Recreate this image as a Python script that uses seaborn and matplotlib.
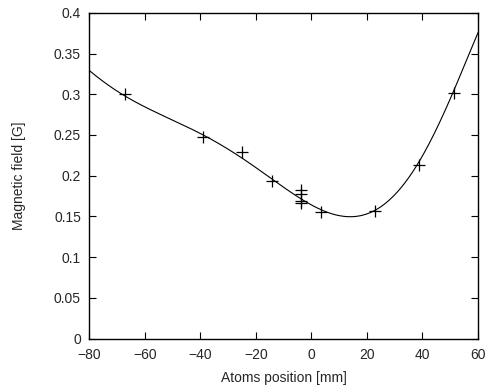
import numpy as np
import pandas as pd
import matplotlib
matplotlib.use("Agg")
import matplotlib.pyplot as plt
import seaborn as sns

# Measured field at the atoms' position
position_mm = [-67.0, -39.0, -25.0, -14.3, -3.6, -3.6, -3.6, -3.6, 3.5, 23.0, 38.6, 51.5]
field_G = [0.300, 0.247, 0.229, 0.1935, 0.182, 0.1775, 0.169, 0.167, 0.156, 0.157, 0.213, 0.302]

# Calculated field profile (sampled)
model_mm = [-80, -67, -51, -39, -24.5, -14.3, -4.1, 3.1, 6.1, 15.1, 23.0, 30.8, 38.7, 51.2, 60]
model_G = [0.329, 0.298, 0.270, 0.248, 0.223, 0.195, 0.174, 0.158, 0.155, 0.1465,
           0.157, 0.185, 0.2145, 0.303, 0.376]

sns.set_style("ticks")
plt.rcParams["font.family"] = ["Liberation Sans", "DejaVu Sans"]
plt.rcParams["xtick.direction"] = "in"
plt.rcParams["ytick.direction"] = "in"
plt.rcParams["xtick.top"] = True
plt.rcParams["ytick.right"] = True

fig = plt.figure(figsize=(4.88, 3.87), dpi=100)
ax = fig.add_axes([0.183, 0.125, 0.7965, 0.842])

# smooth profile through the sampled model values
coef = np.polyfit(model_mm, model_G, 6)
xs = np.linspace(-80, 60, 400)
curve = pd.DataFrame({"x": xs, "y": np.polyval(coef, xs)})
sns.lineplot(data=curve, x="x", y="y", ax=ax, color="black", linewidth=0.8)

pts = pd.DataFrame({"x": position_mm, "y": field_G})
sns.scatterplot(data=pts, x="x", y="y", ax=ax, marker="+", color="black",
                s=70, linewidth=0.9, zorder=3)

ax.set_xlim(-80, 60)
ax.set_ylim(0, 0.4)
ax.set_xticks(np.arange(-80, 61, 20))
ax.set_yticks(np.arange(0, 0.401, 0.05))
ax.set_yticklabels(["0", "0.05", "0.1", "0.15", "0.2", "0.25", "0.3", "0.35", "0.4"])
ax.set_xlabel("Atoms position [mm]", fontsize=10, labelpad=6)
ax.set_ylabel("Magnetic field [G]", fontsize=10, labelpad=20)
ax.tick_params(labelsize=10, length=5, width=0.8, color="black")
ax.tick_params(axis="x", pad=7)
ax.tick_params(axis="y", pad=6)
for s in ax.spines.values():
    s.set_linewidth(1.0)
    s.set_color("black")

fig.savefig("out.png", dpi=100)
